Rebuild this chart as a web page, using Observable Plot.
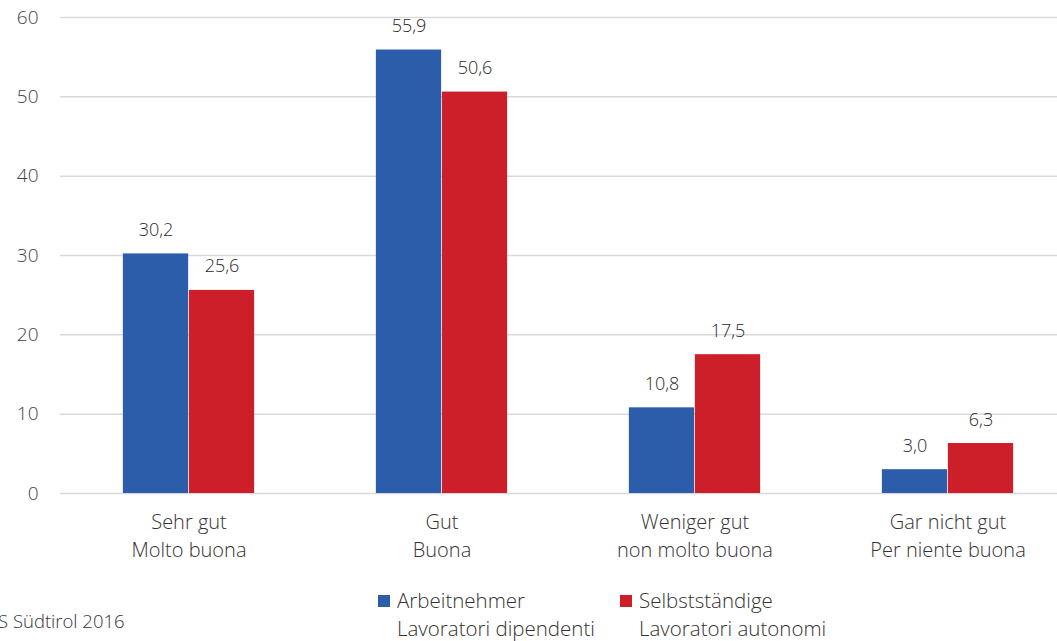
<!DOCTYPE html>
<html>
<head>
<meta charset="utf-8">
<script src="https://cdn.jsdelivr.net/npm/d3@7"></script>
<script src="https://cdn.jsdelivr.net/npm/@observablehq/plot@0.6"></script>
<style>
  html, body { margin: 0; padding: 0; background: #fff; overflow: hidden; }
  body { width: 1057px; height: 641px; position: relative; font-family: "Open Sans", sans-serif; font-weight: 300; }
  #chart { position: absolute; left: 0; top: 0; }
  .leg { position: absolute; top: 586px; font-size: 20.5px; line-height: 28px; color: #333; }
  .sw { position: absolute; width: 12px; height: 12px; top: 9px; }
  .caption { position: absolute; left: -2px; top: 608px; font-size: 18.5px; color: #333; }
</style>
</head>
<body>
<div id="chart"></div>
<div id="legend"></div>
<div class="caption" id="caption"></div>
<script>
const categoriesDe = ["Sehr gut", "Gut", "Weniger gut", "Gar nicht gut"];
const categoriesIt = ["Molto buona", "Buona", "non molto buona", "Per niente buona"];
const seriesDe = ["Arbeitnehmer", "Selbstständige"];
const seriesIt = ["Lavoratori dipendenti", "Lavoratori autonomi"];
const arbeitnehmer = [30.2, 55.9, 10.8, 3.0];
const selbststaendige = [25.6, 50.6, 17.5, 6.3];
const yTicks = [0, 10, 20, 30, 40, 50, 60];
const colors = ["#2c5dab", "#cd1f2a"];
const captionText = "S Südtirol 2016";

const seriesValues = [arbeitnehmer, selbststaendige];
const data = [];
categoriesDe.forEach((c, i) => {
  seriesDe.forEach((s, j) => {
    data.push({cat: c, series: s, value: seriesValues[j][i]});
  });
});
const fmt = v => d3.format(".1f")(v).replace(".", ",");
const catLabel = c => c + "\n" + categoriesIt[categoriesDe.indexOf(c)];

const W = 1080, mL = 60, mR = 5;
const step = (W - mL - mR) / categoriesDe.length;
const barW = 66;
const outer = (step - 2 * barW) / 2;

const marks = [
  Plot.gridY(yTicks, {stroke: "#d9d9d9", strokeOpacity: 1, strokeWidth: 1.5})
];
seriesDe.forEach((s, j) => {
  const sub = data.filter(d => d.series === s);
  marks.push(Plot.barY(sub, {
    x: "cat", y: "value", fill: colors[j],
    insetLeft: outer + j * barW, insetRight: outer + (1 - j) * barW
  }));
  marks.push(Plot.text(sub, {
    x: "cat", y: "value", text: d => fmt(d.value),
    dx: (j === 0 ? -1 : 1) * barW / 2, dy: -18, lineAnchor: "bottom",
    fontSize: 18, fill: "#2a2a2a"
  }));
});
marks.push(Plot.axisY({ticks: yTicks, tickSize: 0, tickPadding: 22, fontSize: 19, color: "#444", label: null, tickFormat: d => d}));
marks.push(Plot.axisX({anchor: "bottom", tickSize: 0, tickPadding: 16, fontSize: 20, color: "#333", label: null, tickFormat: catLabel, lineHeight: 1.4}));

const plot = Plot.plot({
  width: W,
  height: 580,
  marginLeft: mL,
  marginRight: mR,
  marginTop: 17,
  marginBottom: 87,
  style: {maxWidth: "none", fontFamily: "Open Sans, sans-serif", fontWeight: 300, background: "#fff"},
  x: {domain: categoriesDe, padding: 0, label: null},
  y: {domain: [0, 60], label: null},
  marks
});
document.getElementById("chart").appendChild(plot);

const legendX = [378, 620];
const legend = document.getElementById("legend");
seriesDe.forEach((s, j) => {
  const div = document.createElement("div");
  div.className = "leg";
  div.style.left = (legendX[j] + 19) + "px";
  div.innerHTML = s + "<br>" + seriesIt[j];
  const sw = document.createElement("div");
  sw.className = "sw";
  sw.style.left = "-19px";
  sw.style.background = colors[j];
  div.appendChild(sw);
  legend.appendChild(div);
});
document.getElementById("caption").textContent = captionText;
</script>
</body>
</html>
